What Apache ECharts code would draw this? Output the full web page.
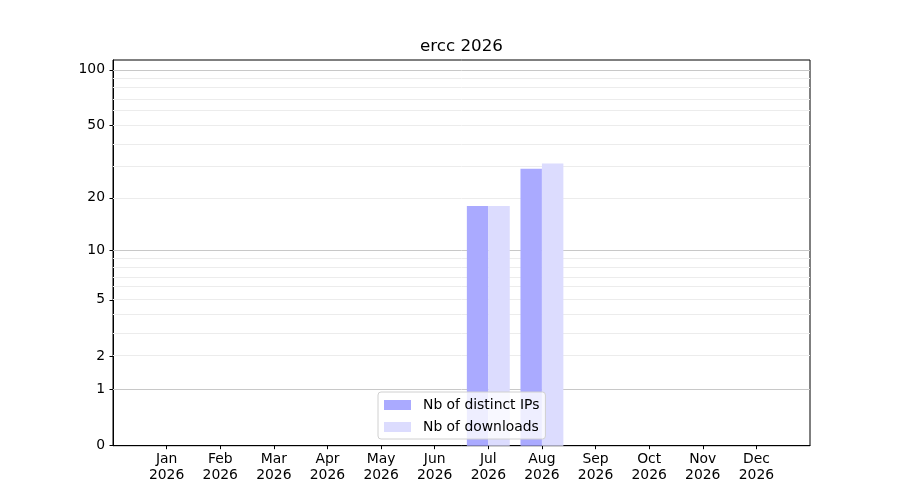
<!DOCTYPE html>
<html lang="en">
<head>
    <meta charset="UTF-8">
    <title>ercc 2026</title>
    <style>
        html, body { margin: 0; padding: 0; background: #fff; }
        #chart { width: 900px; height: 500px; }
    </style>
</head>
<body>
<div id="chart"></div>
<script src="https://cdn.jsdelivr.net/npm/echarts@6/dist/echarts.min.js"></script>
<script>
    // data
    const months = ['Jan', 'Feb', 'Mar', 'Apr', 'May', 'Jun', 'Jul', 'Aug', 'Sep', 'Oct', 'Nov', 'Dec']
    const year = 2026
    const ipCounts = [0, 0, 0, 0, 0, 0, 18, 29, 0, 0, 0, 0]
    const downloadCounts = [0, 0, 0, 0, 0, 0, 18, 31, 0, 0, 0, 0]
    const yTickValues = [0, 1, 2, 5, 10, 20, 50, 100]
    const majorGrid = [1, 10, 100]
    const minorGrid = [2, 3, 4, 5, 6, 7, 8, 9, 20, 30, 40, 50, 60, 70, 80, 90]
    const yTop = 113

    // the y scale is log10(v + 1)
    const f = v => Math.log10(v + 1)
    const inv = t => Math.round(Math.pow(10, t) - 1)
    const font = 'DejaVu Sans'

    const gridLines = majorGrid.map(v => ({ yAxis: f(v), lineStyle: { color: '#c8c8c8' } }))
        .concat(minorGrid.map(v => ({ yAxis: f(v), lineStyle: { color: '#ececec' } })))

    const chart = echarts.init(document.getElementById('chart'))
    chart.setOption({
        animation: false,
        textStyle: { fontFamily: font },
        title: {
            text: 'ercc ' + year,
            left: 461.5,
            top: 38,
            padding: 0,
            textAlign: 'center',
            textStyle: { fontFamily: font, fontSize: 16.7, fontWeight: 'normal', color: '#000' }
        },
        legend: {
            orient: 'vertical',
            left: 378,
            top: 392,
            padding: [6, 6, 5, 6],
            itemGap: 8,
            itemWidth: 27,
            itemHeight: 10,
            icon: 'rect',
            backgroundColor: 'rgba(255,255,255,0.8)',
            borderColor: '#d0d0d0',
            borderWidth: 1,
            borderRadius: 3,
            textStyle: { fontFamily: font, fontSize: 13.9, color: '#000', padding: [0, 0, 0, 7] },
            data: ['Nb of distinct IPs', 'Nb of downloads']
        },
        grid: {
            left: 113,
            right: 90,
            top: 60,
            bottom: 54.3,
            show: true,
            borderColor: '#000',
            borderWidth: 1,
            backgroundColor: 'transparent'
        },
        xAxis: {
            type: 'value',
            min: -1,
            max: 12,
            interval: 1,
            axisLine: { show: true, onZero: false, lineStyle: { color: '#000' } },
            axisTick: { show: true, length: 3.5, lineStyle: { color: '#000' }, customValues: months.map((m, i) => i) },
            axisLabel: {
                customValues: months.map((m, i) => i),
                formatter: v => months[v] + '\n' + year,
                fontFamily: font,
                fontSize: 13.9,
                lineHeight: 15.5,
                color: '#000',
                margin: 6
            },
            splitLine: { show: false }
        },
        yAxis: {
            type: 'value',
            min: 0,
            max: f(yTop),
            axisLine: { show: true, onZero: false, lineStyle: { color: '#000' } },
            axisTick: { show: true, length: 3.5, lineStyle: { color: '#000' }, customValues: yTickValues.map(f) },
            axisLabel: {
                customValues: yTickValues.map(f),
                formatter: v => String(inv(v)),
                fontFamily: font,
                fontSize: 13.9,
                color: '#000',
                margin: 8,
                padding: [3, 0, 0, 0]
            },
            splitLine: { show: false }
        },
        series: [
            {
                name: 'Nb of distinct IPs',
                type: 'bar',
                barWidth: 21.45,
                barGap: '0%',
                itemStyle: { color: '#aaaaff' },
                data: ipCounts.map((v, i) => [i, f(v)]),
                markLine: {
                    z: 1,
                    silent: true,
                    symbol: 'none',
                    label: { show: false },
                    lineStyle: { type: 'solid', width: 1 },
                    data: gridLines
                }
            },
            {
                name: 'Nb of downloads',
                type: 'bar',
                barWidth: 21.45,
                barGap: '0%',
                itemStyle: { color: '#dcdcfe' },
                data: downloadCounts.map((v, i) => [i, f(v)])
            }
        ]
    })
</script>
</body>
</html>
